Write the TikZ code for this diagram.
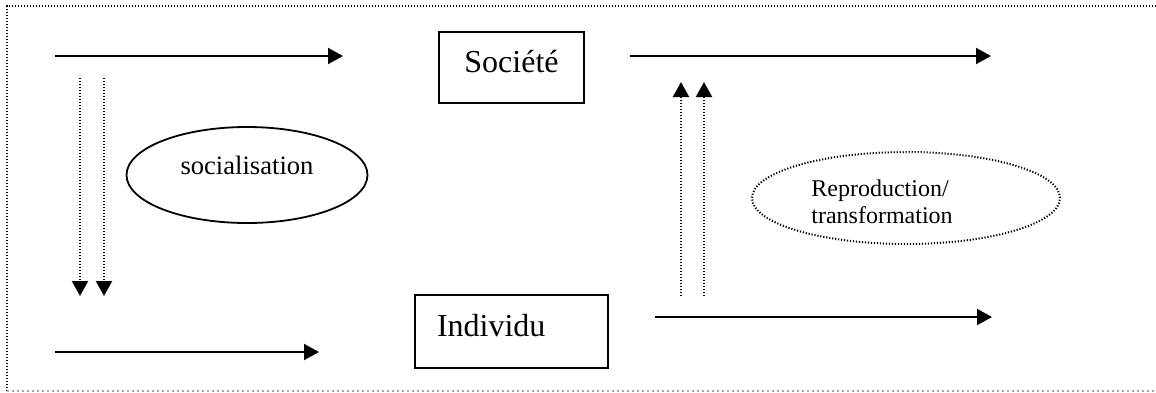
\documentclass[tikz,border=0pt]{standalone}
\usepackage{fontspec}
\setmainfont{Liberation Serif}
\usetikzlibrary{arrows.meta,shapes.geometric}
\begin{document}
\begin{tikzpicture}[x=0.5pt,y=-0.5pt,
  tip/.style={-{Triangle[length=7.5pt,width=8pt]}},
  arr/.style={tip,line width=1pt},
  dotarr/.style={tip,line width=1.1pt,dash pattern=on 0.6pt off 0.9pt},
  boxnode/.style={draw,line width=1pt,rectangle,inner sep=0pt,font=\fontsize{16}{19}\selectfont,text height=11pt,text depth=6.5pt},
  ellnode/.style={ellipse,inner sep=0pt,line width=0.9pt}
]
\useasboundingbox (0,0) rectangle (1156,392);
% frame
\draw[line width=0.9pt,dash pattern=on 0.6pt off 0.9pt] (7,391) -- (7,6) -- (1160,6);
\draw[gray!70,line width=0.6pt,dash pattern=on 1pt off 1.5pt] (7,391) -- (1160,391);

% boxes
\node[boxnode,minimum width=72.5pt,minimum height=35.5pt] (soc) at (511.5,67.5) {Société};
\node[boxnode,text width=74.5pt,inner xsep=11pt,align=left,minimum height=36.5pt] (ind) at (511.5,331.5) {Individu};

% ellipses
\node[ellnode,draw,minimum width=120.5pt,minimum height=48pt,font=\fontsize{13.3}{15}\selectfont,text height=6pt,text depth=7pt] (sociali) at (247,175) {socialisation};
\node[ellnode,draw,line width=1pt,dash pattern=on 0.6pt off 0.9pt,minimum width=154pt,minimum height=46pt] (repro) at (906,198) {};
\node[align=left,inner sep=0pt,font=\fontsize{12}{13.5}\selectfont] (reprot) at (882,202) {Reproduction/\\transformation};

% horizontal arrows
\coordinate (a1s) at (55,56);  \coordinate (a1e) at (343,56);
\coordinate (a2s) at (630,56); \coordinate (a2e) at (991,56);
\coordinate (a3s) at (55,352); \coordinate (a3e) at (319,352);
\coordinate (a4s) at (655,317); \coordinate (a4e) at (992,317);
\draw[arr] (a1s) -- (a1e);
\draw[arr] (a2s) -- (a2e);
\draw[arr] (a3s) -- (a3e);
\draw[arr] (a4s) -- (a4e);

% dotted vertical arrows
\coordinate (d1s) at (80,78);  \coordinate (d1e) at (80,296);
\coordinate (d2s) at (104,78); \coordinate (d2e) at (104,296);
\coordinate (u1s) at (681,296); \coordinate (u1e) at (681,82);
\coordinate (u2s) at (704,296); \coordinate (u2e) at (704,82);
\draw[dotarr] (d1s) -- (d1e);
\draw[dotarr] (d2s) -- (d2e);
\draw[dotarr] (u1s) -- (u1e);
\draw[dotarr] (u2s) -- (u2e);
\end{tikzpicture}
\end{document}
